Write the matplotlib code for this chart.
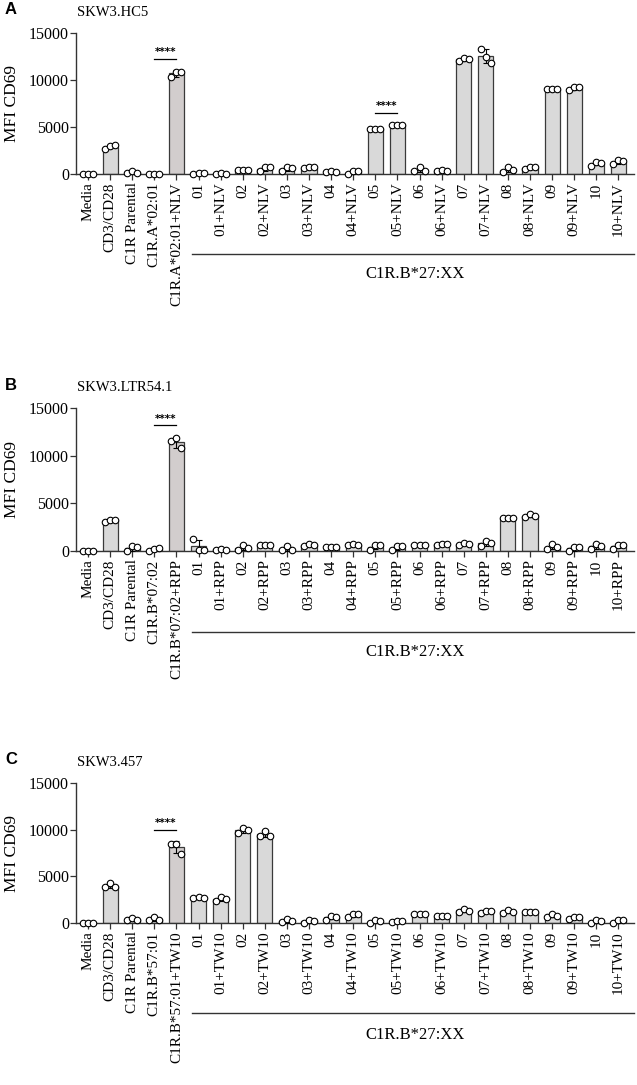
import numpy as np
import matplotlib
matplotlib.use("Agg")
import matplotlib.pyplot as plt
import matplotlib.transforms as mtransforms

plt.rcParams['font.family'] = ['Liberation Serif', 'DejaVu Serif']

# Bar labels
clones = ['01', '02', '03', '04', '05', '06', '07', '08', '09', '10']

labels_a = ['Media', 'CD3/CD28', 'C1R Parental', 'C1R.A*02:01', 'C1R.A*02:01+NLV']
labels_b = ['Media', 'CD3/CD28', 'C1R Parental', 'C1R.B*07:02', 'C1R.B*07:02+RPP']
labels_c = ['Media', 'CD3/CD28', 'C1R Parental', 'C1R.B*57:01', 'C1R.B*57:01+TW10']
for c in clones:
    labels_a += [c, c + '+NLV']
    labels_b += [c, c + '+RPP']
    labels_c += [c, c + '+TW10']

# Replicate values (3 per bar)
reps_a = [[0, 0, 0], [2700, 3000, 3050], [150, 300, 100], [50, 30, 40], [10300, 10900, 10900],
          [50, 100, 80], [40, 60, 50], [400, 450, 450], [300, 700, 700], [350, 700, 600],
          [600, 700, 700], [200, 350, 200], [0, 350, 350], [4800, 4800, 4800], [5200, 5250, 5250],
          [350, 700, 350], [350, 400, 350], [12000, 12300, 12250], [13300, 12500, 11800], [200, 700, 400],
          [550, 700, 700], [9050, 9000, 9000], [8900, 9300, 9300], [900, 1250, 1200], [1050, 1500, 1430]]

reps_b = [[0, 0, 0], [3000, 3300, 3300], [0, 500, 420], [0, 250, 300], [11500, 11900, 10800],
          [1300, 150, 150], [150, 200, 150], [150, 600, 350], [600, 600, 600], [100, 500, 150],
          [500, 770, 600], [420, 420, 420], [600, 770, 600], [150, 600, 600], [100, 500, 500],
          [600, 600, 600], [600, 770, 700], [600, 850, 770], [500, 1050, 850], [3500, 3500, 3500],
          [3600, 3850, 3650], [250, 700, 420], [0, 420, 420], [250, 770, 500], [250, 600, 600]]

reps_c = [[0, 0, 0], [3850, 4300, 3850], [370, 550, 370], [300, 630, 370], [8500, 8500, 7350],
          [2700, 2800, 2700], [2400, 2800, 2600], [9650, 10200, 10000], [9350, 9900, 9350], [70, 450, 180],
          [0, 370, 180], [370, 800, 630], [670, 920, 920], [0, 300, 180], [110, 180, 180],
          [920, 920, 920], [740, 800, 740], [1200, 1550, 1300], [1100, 1300, 1300], [1100, 1400, 1200],
          [1200, 1200, 1200], [670, 1000, 740], [480, 670, 630], [0, 370, 180], [0, 370, 300]]

titles = ['SKW3.HC5', 'SKW3.LTR54.1', 'SKW3.457']
letters = ['A', 'B', 'C']
# significance pairs (bar index pairs) and bracket heights
sig_a = [(3, 4, 12250), (13, 14, 6500)]
sig_b = [(3, 4, 13200)]
sig_c = [(3, 4, 10000)]
group_label = 'C1R.B*27:XX'

W, H = 637, 1085
fig = plt.figure(figsize=(W / 100, H / 100), dpi=100)

# pixel geometry of each panel: (y of 15000, y of 0, bracket y, group text y)
panels = [
    (labels_a, reps_a, sig_a, 33, 174, 254, 274),
    (labels_b, reps_b, sig_b, 408, 551, 632, 652),
    (labels_c, reps_c, sig_c, 783, 923, 1013, 1035),
]

x_left, x_right = 76, 634
x0, dx = 88, 22.1
jitter = np.array([-0.23, 0.0, 0.23])

for k, (labs, reps, sigs, ytop, ybot, ybr, ytxt) in enumerate(panels):
    ax = fig.add_axes([x_left / W, (H - ybot) / H, (x_right - x_left) / W, (ybot - ytop) / H])
    n = len(labs)
    x = np.arange(n)
    vals = np.array(reps, dtype=float)
    means = vals.mean(axis=1)
    sds = vals.std(axis=1, ddof=1)
    colors = ['#d9d9d9'] * n
    colors[4] = '#d2cdcd'
    ax.bar(x, means, width=0.68, color=colors, edgecolor='#3a3a3a', linewidth=0.9, zorder=2)
    ax.errorbar(x, means, yerr=sds, fmt='none', ecolor='black', elinewidth=0.8,
                capsize=2.5, capthick=0.8, zorder=3, clip_on=False)
    for i in range(n):
        ax.scatter(x[i] + jitter, vals[i], s=22, facecolor='white', edgecolor='black',
                   linewidth=0.8, zorder=4, clip_on=False)

    ax.set_xlim(-(x0 - x_left) / dx, (n - 1) + (x_right - (x0 + dx * (n - 1))) / dx)
    ax.set_ylim(0, 15000)
    ax.set_yticks([0, 5000, 10000, 15000])
    ax.set_xticks(x)
    ax.set_xticklabels(labs, rotation=90, fontsize=11)
    ax.tick_params(axis='y', labelsize=11.5, length=4, width=0.9, pad=1, colors='#333333', labelcolor='black')
    ax.tick_params(axis='x', length=4, width=0.9, pad=2, colors='#333333', labelcolor='black')
    for s in ['top', 'right']:
        ax.spines[s].set_visible(False)
    for s in ['left', 'bottom']:
        ax.spines[s].set_linewidth(1.0)
        ax.spines[s].set_color('#333333')
    ax.set_ylabel('MFI CD69', fontsize=12.5, labelpad=2)
    ax.yaxis.set_label_coords(-56 / (x_right - x_left), 0.5)

    # significance markers
    for a, b, yv in sigs:
        ax.plot([a, b], [yv, yv], color='black', linewidth=0.9, clip_on=False)
        ax.text((a + b) / 2, yv + 150, '****', ha='center', va='bottom', fontsize=7.5,
                family=['DejaVu Sans'], fontweight='bold')

    # group bracket below the tick labels
    tr = mtransforms.blended_transform_factory(ax.transData, fig.transFigure)
    ax.plot([4.7, ax.get_xlim()[1]], [(H - ybr) / H] * 2, color='#333333', linewidth=1.0,
            transform=tr, clip_on=False)
    ax.text(14.8, (H - ytxt) / H, group_label, transform=tr, ha='center', va='center', fontsize=12)

    fig.text(77 / W, (H - (ytop - 21)) / H, titles[k], ha='left', va='center', fontsize=10.5)
    fig.text(5 / W, (H - (ytop - 23)) / H, letters[k], ha='left', va='center', fontsize=12,
             fontweight='bold', family=['Liberation Sans', 'DejaVu Sans'])

fig.savefig('out.png', dpi=100)
